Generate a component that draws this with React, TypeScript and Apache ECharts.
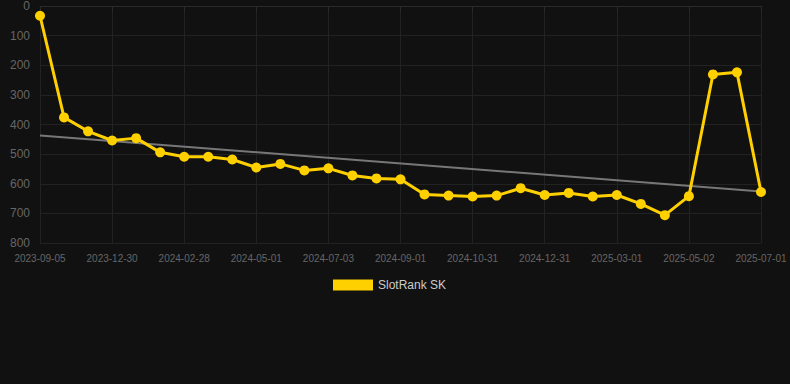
import React, { useEffect, useRef } from "react";
import * as echarts from "echarts";

const dates = [
  "2023-09-05", "2023-11-10", "2023-12-10", "2023-12-30", "2024-01-19", "2024-02-08",
  "2024-02-28", "2024-03-19", "2024-04-10", "2024-05-01", "2024-05-22", "2024-06-12",
  "2024-07-03", "2024-07-23", "2024-08-12", "2024-09-01", "2024-09-21", "2024-10-11",
  "2024-10-31", "2024-11-20", "2024-12-11", "2024-12-31", "2025-01-20", "2025-02-09",
  "2025-03-01", "2025-03-21", "2025-04-11", "2025-05-02", "2025-05-22", "2025-06-11",
  "2025-07-01",
];

const rankValues = [
  33, 376, 423, 454, 446, 494, 509, 509, 518, 545,
  533, 555, 548, 572, 582, 585, 636, 640, 643, 640,
  615, 638, 631, 643, 638, 668, 706, 642, 231, 224,
  628,
];

const trendStart = 437;
const trendEnd = 626;

const yTicks = { min: 0, max: 800, interval: 100 };

export default function App() {
  const ref = useRef<HTMLDivElement>(null);
  useEffect(() => {
    document.body.style.margin = "0";
    document.body.style.background = "#111111";
    if (!ref.current) return;
    const chart = echarts.init(ref.current, undefined, { renderer: "svg" });
    const trend = dates.map((_, i) =>
      i === 0 ? trendStart : i === dates.length - 1 ? trendEnd : null
    );
    chart.setOption({
      animation: false,
      backgroundColor: "#111111",
      grid: { left: 40, right: 29, top: 6, bottom: 141, containLabel: false },
      legend: {
        data: ["SlotRank SK"],
        top: 274,
        left: 328,
        itemWidth: 40,
        itemHeight: 11,
        itemGap: 8,
        icon: "rect",
        textStyle: { color: "#cccccc", fontSize: 12, fontFamily: "Liberation Sans, Arial, sans-serif" },
      },
      xAxis: {
        type: "category",
        data: dates,
        boundaryGap: false,
        axisLine: { show: true, lineStyle: { color: "#2a2a2a" } },
        axisTick: { show: true, interval: 2, lineStyle: { color: "#2a2a2a" } },
        axisLabel: {
          interval: 2,
          color: "#666666",
          fontSize: 10,
          margin: 10,
          fontFamily: "Liberation Sans, Arial, sans-serif",
        },
        splitLine: { show: true, interval: 2, lineStyle: { color: "#222222" } },
      },
      yAxis: {
        type: "value",
        inverse: true,
        min: yTicks.min,
        max: yTicks.max,
        interval: yTicks.interval,
        axisLine: { show: false },
        axisTick: { show: false },
        axisLabel: {
          color: "#666666",
          fontSize: 12,
          margin: 10,
          fontFamily: "Liberation Sans, Arial, sans-serif",
        },
        splitLine: { show: true, lineStyle: { color: "#222222" } },
      },
      series: [
        {
          name: "Trend",
          type: "line",
          data: trend,
          connectNulls: true,
          symbol: "none",
          lineStyle: { color: "#777777", width: 2 },
          silent: true,
          z: 1,
        },
        {
          name: "SlotRank SK",
          type: "line",
          data: rankValues,
          symbol: "circle",
          symbolSize: 10,
          itemStyle: { color: "#FFD000" },
          lineStyle: { color: "#FFD000", width: 3 },
          z: 2,
        },
      ],
    });
    return () => chart.dispose();
  }, []);
  return <div ref={ref} style={{ width: 790, height: 384 }} />;
}
